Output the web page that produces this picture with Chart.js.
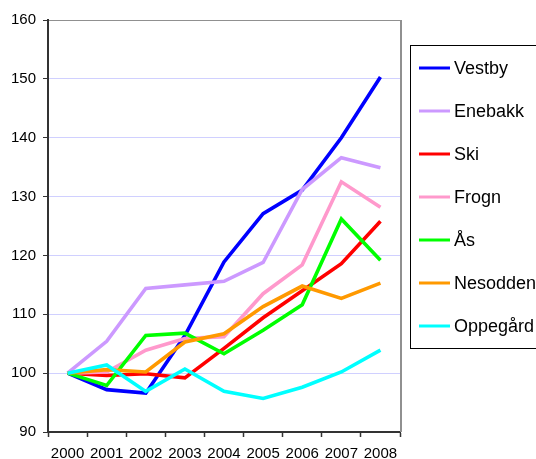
<!DOCTYPE html>
<html>
<head>
<meta charset="utf-8">
<script src="https://cdn.jsdelivr.net/npm/chart.js@4"></script>
<style>
html, body { margin: 0; padding: 0; background: #fff; }
</style>
</head>
<body>
<canvas id="myChart" width="536" height="459"></canvas>
<script>
const years = ['2000', '2001', '2002', '2003', '2004', '2005', '2006', '2007', '2008'];

const vestby   = [100, 97.2, 96.6, 106.4, 118.9, 127.1, 131.1, 140.0, 150.3];
const enebakk  = [100, 105.4, 114.4, 115.0, 115.6, 118.8, 131.2, 136.6, 134.9];
const ski      = [100, 99.6, 99.9, 99.2, 104.2, 109.4, 114.0, 118.6, 125.8];
const frogn    = [100, 100.2, 103.9, 105.9, 106.2, 113.5, 118.4, 132.5, 128.2];
const aas      = [100, 97.9, 106.4, 106.8, 103.3, 107.3, 111.6, 126.2, 119.2];
const nesodden = [100, 100.6, 100.2, 105.3, 106.7, 111.3, 114.8, 112.7, 115.3];
const oppegard = [100, 101.4, 96.9, 100.7, 96.9, 95.7, 97.6, 100.2, 103.9];

const yTicks = [90, 100, 110, 120, 130, 140, 150, 160];

const series = [
    { label: 'Vestby', data: vestby, color: '#0000FF' },
    { label: 'Enebakk', data: enebakk, color: '#CC99FF' },
    { label: 'Ski', data: ski, color: '#FF0000' },
    { label: 'Frogn', data: frogn, color: '#FF99CC' },
    { label: 'Ås', data: aas, color: '#00FF00' },
    { label: 'Nesodden', data: nesodden, color: '#FF9900' },
    { label: 'Oppegård', data: oppegard, color: '#00FFFF' },
];

const axisColor = '#333333';

// right frame line + boxed legend like the original
const frameAndLegend = {
    id: 'frameAndLegend',
    afterDraw(chart) {
        const ctx = chart.ctx, a = chart.chartArea;
        ctx.save();
        ctx.strokeStyle = '#909090';
        ctx.lineWidth = 2;
        ctx.beginPath();
        ctx.moveTo(Math.round(a.right) + 1, a.top);
        ctx.lineTo(Math.round(a.right) + 1, a.bottom);
        ctx.stroke();

        ctx.strokeStyle = '#000';
        ctx.lineWidth = 1;
        ctx.strokeRect(410.5, 45.5, 140, 303);
        ctx.font = '18px Arial, "Liberation Sans", sans-serif';
        ctx.textBaseline = 'middle';
        chart.data.datasets.forEach((ds, i) => {
            const y = 68 + i * 43;
            ctx.strokeStyle = ds.borderColor;
            ctx.lineWidth = 3;
            ctx.beginPath();
            ctx.moveTo(419, y);
            ctx.lineTo(450, y);
            ctx.stroke();
            ctx.fillStyle = '#000';
            ctx.fillText(ds.label, 454, y + 1);
        });
        ctx.restore();
    }
};

const ctx = document.getElementById('myChart').getContext('2d');
const chart = new Chart(ctx, {
    type: 'line',
    data: {
        labels: years,
        datasets: series.map((s, i) => ({
            label: s.label,
            data: s.data,
            borderColor: s.color,
            backgroundColor: s.color,
            borderWidth: 3.6,
            pointRadius: 0,
            tension: 0,
            order: series.length - 1 - i,
        })),
    },
    options: {
        responsive: false,
        animation: false,
        layout: { padding: { top: 20, right: 136, left: 0, bottom: 0 } },
        plugins: {
            legend: { display: false },
            tooltip: { enabled: false },
        },
        scales: {
            x: {
                offset: true,
                afterFit: (scale) => { scale.height = 27; },
                grid: {
                    offset: true,
                    drawOnChartArea: false,
                    tickLength: 5,
                    tickColor: axisColor,
                    tickWidth: 1.5,
                },
                border: { color: axisColor, width: 2 },
                ticks: {
                    color: '#000',
                    padding: 8,
                    maxRotation: 0,
                    autoSkip: false,
                    font: { family: 'Arial, "Liberation Sans", sans-serif', size: 15 },
                },
            },
            y: {
                min: 90,
                max: 160,
                afterFit: (scale) => { scale.width = 48; },
                afterBuildTicks: (scale) => { scale.ticks = yTicks.map(v => ({ value: v })); },
                grid: {
                    color: (c) => c.tick && c.tick.value === 160 ? '#909090' : (c.tick && c.tick.value === 90 ? axisColor : '#D0D0FF'),
                    tickLength: 5,
                    tickColor: axisColor,
                },
                border: { color: axisColor, width: 2 },
                ticks: {
                    color: '#000',
                    padding: 7,
                    font: { family: 'Arial, "Liberation Sans", sans-serif', size: 15 },
                },
            },
        },
    },
    plugins: [frameAndLegend],
});
</script>
</body>
</html>
